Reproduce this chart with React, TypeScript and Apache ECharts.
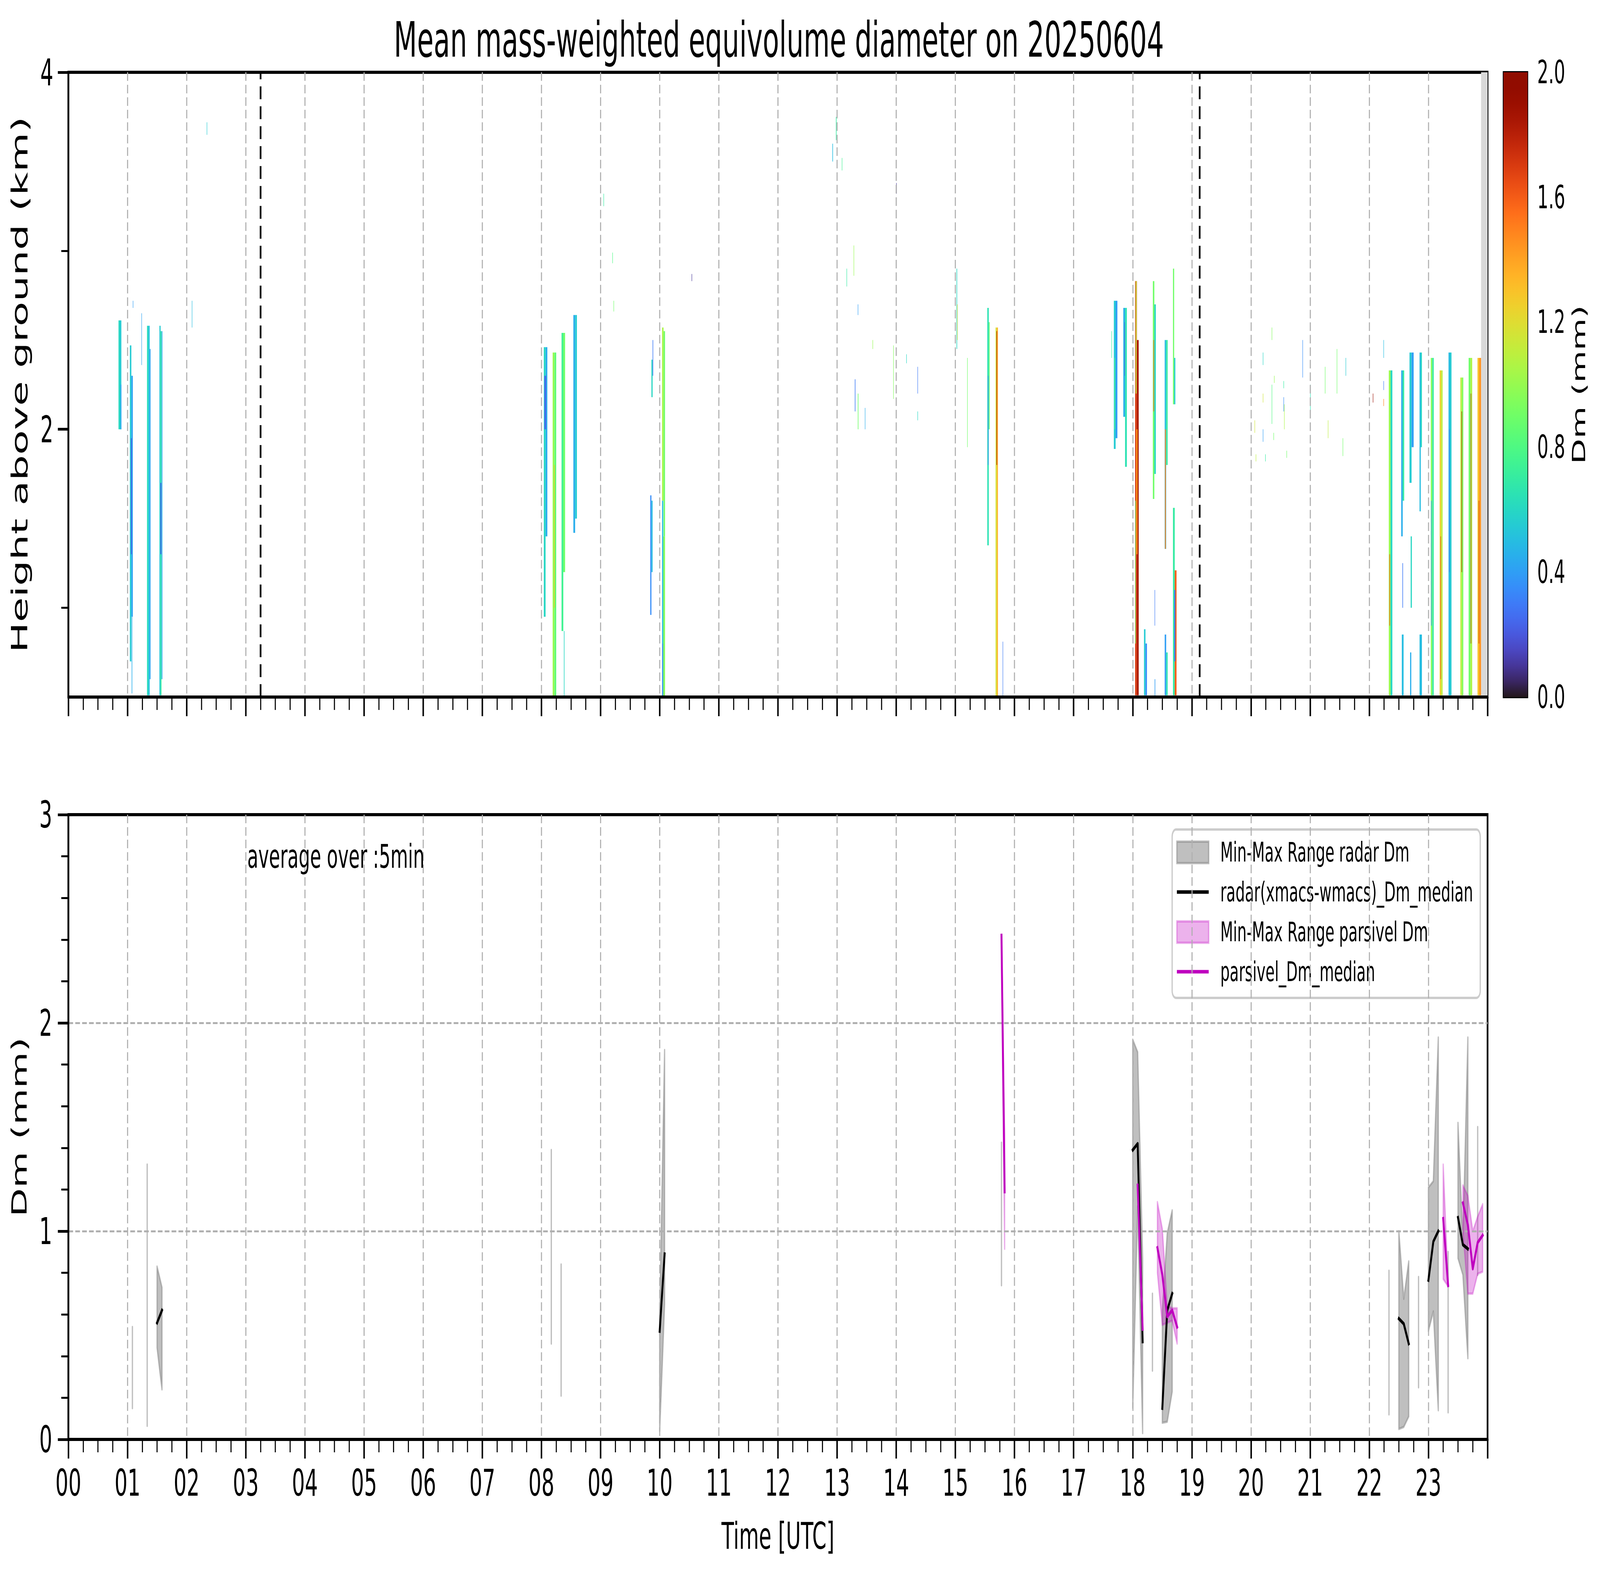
import { useEffect, useRef } from "react";
import * as echarts from "echarts";

const FONT = "DejaVu Sans";
const FIG_W = 7442;
const FIG_H = 4031;

// Dm columns of the top panel: [start h, end h, bottom km, top km, Dm mm]
const DM_CELLS: number[][] = [
  // 00:50 - 02:20
  [0.848, 0.872, 2.0, 2.61, 0.6],
  [0.872, 0.896, 2.0, 2.61, 0.55],
  [0.884, 0.896, 2.0, 2.25, 0.4],
  [1.04, 1.065, 0.7, 2.47, 0.55],
  [1.065, 1.09, 0.95, 2.3, 0.42],
  [1.058, 1.072, 1.3, 1.95, 0.22],
  [1.07, 1.08, 0.52, 0.95, 0.45],
  [1.09, 1.095, 2.68, 2.72, 0.4],
  [1.236, 1.242, 2.36, 2.65, 0.42],
  [1.33, 1.355, 0.51, 2.58, 0.62],
  [1.355, 1.375, 0.51, 2.58, 0.5],
  [1.375, 1.39, 0.6, 2.45, 0.42],
  [1.54, 1.56, 0.51, 2.58, 0.55],
  [1.56, 1.575, 0.51, 2.55, 0.72],
  [1.575, 1.59, 0.6, 2.55, 0.45],
  [1.558, 1.572, 1.3, 1.7, 0.2],
  [2.088, 2.094, 2.57, 2.72, 0.5],
  [2.34, 2.346, 3.65, 3.72, 0.55],
  // 08:00 - 08:40
  [8.04, 8.07, 0.95, 2.46, 0.6],
  [8.07, 8.1, 1.4, 2.46, 0.45],
  [8.05, 8.08, 2.0, 2.3, 0.25],
  [8.19, 8.22, 0.5, 2.43, 1.0],
  [8.22, 8.25, 0.5, 2.43, 0.85],
  [8.215, 8.225, 1.0, 1.8, 1.3],
  [8.34, 8.37, 0.87, 2.54, 0.75],
  [8.37, 8.4, 1.2, 2.54, 0.9],
  [8.38, 8.39, 0.5, 0.87, 0.6],
  [8.54, 8.57, 1.42, 2.64, 0.45],
  [8.57, 8.6, 1.5, 2.64, 0.55],
  // 09:00 - 10:40
  [9.05, 9.055, 3.25, 3.32, 0.7],
  [9.2, 9.205, 2.93, 2.99, 0.8],
  [9.22, 9.226, 2.66, 2.72, 0.9],
  [9.84, 9.86, 0.96, 1.63, 0.35],
  [9.86, 9.88, 1.2, 1.6, 0.5],
  [9.86, 9.88, 2.18, 2.39, 0.6],
  [9.88, 9.89, 2.3, 2.5, 0.3],
  [10.04, 10.065, 1.6, 2.57, 1.05],
  [10.065, 10.09, 1.4, 2.55, 0.9],
  [10.04, 10.06, 0.5, 1.6, 0.5],
  [10.06, 10.09, 0.5, 1.4, 0.95],
  [10.045, 10.055, 0.5, 0.8, 0.3],
  [10.54, 10.546, 2.83, 2.87, 0.1],
  // 12:50 - 15:15 scattered echoes
  [12.92, 12.93, 3.5, 3.6, 0.5],
  [12.98, 12.99, 3.62, 3.75, 0.7],
  [13.08, 13.085, 3.45, 3.52, 0.75],
  [13.16, 13.166, 2.8, 2.9, 0.7],
  [13.28, 13.286, 2.86, 3.03, 1.0],
  [13.35, 13.356, 2.64, 2.7, 0.4],
  [13.3, 13.31, 2.1, 2.28, 0.3],
  [13.35, 13.36, 2.0, 2.2, 0.9],
  [13.47, 13.476, 2.0, 2.12, 0.45],
  [13.6, 13.606, 2.45, 2.5, 1.0],
  [13.95, 13.956, 2.17, 2.47, 0.95],
  [14.0, 14.006, 3.32, 3.38, 0.1],
  [14.17, 14.176, 2.37, 2.42, 0.6],
  [14.36, 14.366, 2.2, 2.35, 0.3],
  [14.36, 14.366, 2.05, 2.1, 0.6],
  [15.02, 15.03, 2.45, 2.9, 0.6],
  [15.03, 15.035, 2.5, 2.7, 1.2],
  [15.2, 15.206, 1.9, 2.4, 0.9],
  // 15:30 - 15:50
  [15.54, 15.565, 1.35, 2.68, 0.65],
  [15.55, 15.56, 1.8, 2.3, 0.35],
  [15.565, 15.58, 2.0, 2.6, 0.85],
  [15.68, 15.7, 0.5, 2.57, 1.15],
  [15.7, 15.72, 0.5, 2.57, 1.35],
  [15.695, 15.705, 1.8, 2.55, 1.8],
  [15.8, 15.805, 0.5, 0.81, 0.3],
  // 17:35 - 18:45
  [17.64, 17.645, 2.4, 2.55, 0.7],
  [17.68, 17.71, 1.89, 2.72, 0.55],
  [17.71, 17.74, 1.95, 2.72, 0.4],
  [17.69, 17.7, 2.0, 2.4, 0.8],
  [17.84, 17.87, 2.07, 2.68, 0.45],
  [17.87, 17.9, 1.79, 2.68, 0.65],
  [17.86, 17.865, 2.3, 2.6, 0.2],
  [18.04, 18.07, 0.51, 2.83, 1.7],
  [18.07, 18.1, 0.51, 2.5, 1.85],
  [18.05, 18.065, 2.2, 2.83, 1.1],
  [18.06, 18.08, 1.3, 2.0, 1.4],
  [18.04, 18.05, 0.8, 1.6, 0.9],
  [18.19, 18.215, 0.51, 0.88, 0.55],
  [18.215, 18.24, 0.51, 0.8, 0.35],
  [18.34, 18.365, 1.61, 2.83, 0.9],
  [18.365, 18.39, 1.75, 2.7, 0.6],
  [18.35, 18.36, 2.1, 2.5, 1.6],
  [18.37, 18.38, 0.5, 0.6, 0.4],
  [18.37, 18.375, 0.9, 1.1, 0.3],
  [18.54, 18.565, 1.33, 2.5, 0.5],
  [18.565, 18.59, 1.8, 2.5, 0.7],
  [18.545, 18.56, 1.33, 2.0, 1.5],
  [18.54, 18.565, 0.51, 0.85, 0.4],
  [18.565, 18.59, 0.51, 0.75, 0.65],
  [18.68, 18.7, 2.14, 2.9, 0.9],
  [18.7, 18.72, 2.14, 2.4, 0.55],
  [18.68, 18.71, 0.51, 1.56, 0.7],
  [18.71, 18.74, 0.51, 1.21, 1.6],
  [18.7, 18.72, 0.7, 1.1, 0.3],
  // 20:00 - 22:15 scattered echoes
  [20.06, 20.066, 1.98, 2.05, 1.15],
  [20.08, 20.086, 1.82, 1.86, 1.1],
  [20.2, 20.206, 2.15, 2.2, 1.15],
  [20.2, 20.206, 2.36, 2.43, 0.6],
  [20.2, 20.206, 1.93, 2.0, 0.4],
  [20.24, 20.246, 1.82, 1.86, 0.7],
  [20.35, 20.356, 2.5, 2.57, 0.95],
  [20.35, 20.356, 2.03, 2.25, 0.8],
  [20.38, 20.386, 1.94, 1.98, 0.9],
  [20.39, 20.396, 2.26, 2.3, 1.0],
  [20.55, 20.556, 2.23, 2.27, 0.7],
  [20.55, 20.556, 2.1, 2.18, 0.35],
  [20.56, 20.566, 2.0, 2.14, 1.05],
  [20.6, 20.606, 1.84, 1.88, 0.9],
  [20.87, 20.876, 2.29, 2.5, 0.35],
  [21.0, 21.006, 2.1, 2.25, 0.65],
  [21.25, 21.256, 2.2, 2.35, 0.9],
  [21.3, 21.306, 1.95, 2.05, 1.1],
  [21.45, 21.456, 2.2, 2.45, 0.9],
  [21.55, 21.556, 1.85, 1.95, 0.9],
  [21.6, 21.606, 2.3, 2.4, 0.55],
  [22.06, 22.066, 2.15, 2.2, 1.9],
  [22.24, 22.246, 2.4, 2.5, 0.5],
  [22.24, 22.246, 2.22, 2.27, 0.3],
  [22.24, 22.246, 2.13, 2.17, 1.5],
  // 22:20 - 23:55
  [22.33, 22.36, 0.51, 2.33, 1.0],
  [22.36, 22.39, 0.51, 2.33, 0.6],
  [22.34, 22.35, 0.9, 1.3, 1.6],
  [22.54, 22.565, 1.4, 2.33, 0.45],
  [22.565, 22.59, 1.6, 2.33, 0.7],
  [22.55, 22.58, 0.51, 0.85, 0.5],
  [22.56, 22.57, 1.0, 1.25, 0.3],
  [22.68, 22.715, 1.7, 2.43, 0.55],
  [22.715, 22.75, 1.9, 2.43, 0.4],
  [22.69, 22.71, 0.51, 0.75, 0.45],
  [22.7, 22.72, 1.0, 1.4, 0.6],
  [22.85, 22.87, 1.54, 2.43, 0.5],
  [22.87, 22.89, 1.9, 2.43, 0.6],
  [22.85, 22.89, 0.51, 0.85, 0.5],
  [23.04, 23.065, 0.51, 2.4, 0.95],
  [23.065, 23.09, 0.51, 2.4, 0.7],
  [23.045, 23.055, 0.9, 1.6, 0.4],
  [23.19, 23.215, 0.51, 2.33, 1.25],
  [23.215, 23.24, 0.51, 2.33, 1.1],
  [23.205, 23.21, 0.6, 1.4, 1.7],
  [23.34, 23.365, 0.51, 2.43, 0.5],
  [23.365, 23.39, 0.51, 2.43, 0.55],
  [23.35, 23.36, 1.2, 2.0, 0.3],
  [23.54, 23.565, 0.51, 2.29, 1.1],
  [23.565, 23.59, 0.51, 2.29, 0.95],
  [23.56, 23.565, 1.2, 2.1, 1.9],
  [23.68, 23.71, 0.51, 2.4, 0.9],
  [23.71, 23.74, 0.51, 2.4, 1.05],
  [23.715, 23.72, 0.8, 2.2, 1.8],
  [23.83, 23.86, 0.51, 2.4, 1.3],
  [23.86, 23.89, 0.51, 2.4, 1.45],
  [23.85, 23.855, 0.8, 1.6, 1.75],
];

const SUN_LINES = [3.25, 19.13];
const NO_DATA_BAND = [23.89, 24];

const RADAR_TIME = [1.083, 1.333, 1.5, 1.583, 8.167, 8.333, 10.0, 10.083, 15.78, 18.0, 18.083, 18.167, 18.333, 18.5, 18.583, 18.667, 22.333, 22.5, 22.583, 22.667, 22.833, 23.0, 23.083, 23.167, 23.333, 23.5, 23.583, 23.667, 23.833];
const RADAR_MIN = [0.15, 0.065, 0.44, 0.24, 0.46, 0.21, 0.04, 0.65, 0.74, 0.15, 1.12, 0.03, 0.33, 0.08, 0.085, 0.23, 0.12, 0.05, 0.06, 0.11, 0.25, 0.52, 0.615, 0.14, 0.13, 0.87, 0.79, 0.39, 0.79];
const RADAR_MAX = [0.54, 1.32, 0.83, 0.73, 1.39, 0.84, 0.6, 1.87, 1.425, 1.92, 1.86, 0.87, 0.7, 0.62, 0.99, 1.1, 0.81, 1.0, 0.675, 0.855, 0.78, 1.21, 1.24, 1.93, 0.9, 1.52, 0.95, 1.93, 1.5];
const RADAR_MEDIAN = [null, null, 0.56, 0.62, null, null, 0.52, 0.89, null, 1.39, 1.42, 0.47, null, 0.15, 0.62, 0.7, null, 0.58, 0.555, 0.46, null, 0.765, 0.95, 1.0, null, 1.065, 0.935, 0.915, null];

const PARSIVEL_TIME = [15.78, 15.833, 18.083, 18.167, 18.417, 18.5, 18.583, 18.667, 18.75, 23.25, 23.333, 23.583, 23.667, 23.75, 23.833, 23.917];
const PARSIVEL_MIN = [2.42, 0.915, 1.22, 0.53, 0.8, 0.55, 0.56, 0.57, 0.46, 0.77, 0.735, 1.0, 0.7, 0.7, 0.795, 0.805];
const PARSIVEL_MAX = [2.42, 1.47, 1.22, 0.53, 1.14, 1.01, 0.64, 0.63, 0.63, 1.32, 0.75, 1.22, 1.17, 1.0, 1.07, 1.13];
const PARSIVEL_MEDIAN = [2.42, 1.19, 1.22, 0.53, 0.92, 0.79, 0.59, 0.62, 0.54, 1.06, 0.74, 1.135, 1.03, 0.82, 0.945, 0.98];

const LEGEND_ITEMS = [
  { label: "Min-Max Range radar Dm", kind: "patch", color: "rgba(128,128,128,0.5)" },
  { label: "radar(xmacs-wmacs)_Dm_median", kind: "line", color: "#000000" },
  { label: "Min-Max Range parsivel Dm", kind: "patch", color: "rgba(191,0,191,0.3)" },
  { label: "parsivel_Dm_median", kind: "line", color: "#bf00bf" },
];

function turbo(t: number) {
  const x = Math.min(1, Math.max(0, t));
  const r = 0.13572138 + x * (4.6153926 + x * (-42.66032258 + x * (132.13108234 + x * (-152.94239396 + x * 59.28637943))));
  const g = 0.09140261 + x * (2.19418839 + x * (4.84296658 + x * (-14.18503333 + x * (4.27729857 + x * 2.82956604))));
  const b = 0.1066733 + x * (12.64194608 + x * (-60.58204836 + x * (110.36276771 + x * (-89.90310912 + x * 27.34824973))));
  const c = (v: number) => Math.round(255 * Math.min(1, Math.max(0, v)));
  return `rgb(${c(r)},${c(g)},${c(b)})`;
}

// consecutive 5-min samples form one segment; a gap breaks it
function segments(time: number[]) {
  const out: [number, number][] = [];
  let start = 0;
  for (let i = 1; i <= time.length; i++) {
    if (i === time.length || time[i] - time[i - 1] > 0.1) {
      out.push([start, i - 1]);
      start = i;
    }
  }
  return out;
}

const gridStyle = { color: "#b0b0b0", width: 5, type: [22, 10] };
const txt = (size: number) => ({ fontSize: size, fontFamily: FONT, color: "#000" });

function hourAxis(gridIndex: number, showLabels: boolean) {
  return {
    type: "value",
    gridIndex,
    min: 0,
    max: 24,
    interval: 1,
    z: 3,
    axisLine: { show: true, onZero: false, lineStyle: { color: "#000", width: 8 } },
    axisTick: { show: true, length: 49, lineStyle: { color: "#000", width: 7 } },
    minorTick: { show: true, splitNumber: 4, length: 33, lineStyle: { color: "#000", width: 5 } },
    axisLabel: {
      show: showLabels,
      interval: 0,
      margin: 64,
      ...txt(95),
      formatter: (v: number) => (v >= 24 ? "" : String(Math.round(v)).padStart(2, "0")),
    },
    splitLine: { show: true, showMinLine: false, showMaxLine: false, lineStyle: gridStyle },
    name: showLabels ? "Time [UTC]" : "",
    nameLocation: "middle",
    nameGap: 200,
    nameTextStyle: txt(95),
  };
}

function bandSeries(name: string, time: number[], lo: number[], hi: number[], color: string) {
  return {
    type: "custom",
    name,
    xAxisIndex: 1,
    yAxisIndex: 2,
    z: 2,
    clip: true,
    data: segments(time).map(([a, b]) => [time[a], lo[a], a, b]),
    encode: { x: 0, y: 1 },
    renderItem: (_p: any, api: any) => {
      const a = api.value(2);
      const b = api.value(3);
      const pts: number[][] = [];
      for (let i = a; i <= b; i++) pts.push(api.coord([time[i], hi[i]]));
      for (let i = b; i >= a; i--) pts.push(api.coord([time[i], lo[i]]));
      return {
        type: "polygon",
        shape: { points: pts },
        style: { fill: color, stroke: color, lineWidth: 6, lineJoin: "round" },
      };
    },
  };
}

function medianSeries(name: string, time: number[], med: (number | null)[], color: string) {
  const data: any[] = [];
  segments(time).forEach(([a, b]) => {
    for (let i = a; i <= b; i++) data.push([time[i], med[i] == null ? "-" : med[i]]);
    data.push([time[b] + 0.01, "-"]);
  });
  return {
    type: "line",
    name,
    xAxisIndex: 1,
    yAxisIndex: 2,
    z: 4,
    data,
    showSymbol: false,
    symbol: "none",
    connectNulls: false,
    lineStyle: { color, width: 9, cap: "square", join: "round" },
  };
}

export default function App() {
  const outerRef = useRef<HTMLDivElement>(null);
  const ref = useRef<HTMLDivElement>(null);

  useEffect(() => {
    const outer = outerRef.current;
    const el = ref.current;
    if (!outer || !el) return;
    // the figure is laid out at its own 7442x4031 size, then fitted to the window
    const sx = (outer.clientWidth || FIG_W) / FIG_W;
    const sy = (outer.clientHeight || FIG_H) / FIG_H;
    el.style.transform = `scale(${sx}, ${sy})`;

    const chart = echarts.init(el, undefined, { renderer: "svg" });
    const stops = Array.from({ length: 41 }, (_, i) => ({ offset: i / 40, color: turbo(i / 40) }));

    const legendChildren: any[] = [
      {
        type: "rect",
        shape: { x: 0, y: 0, width: 1433, height: 431, r: 18 },
        style: { fill: "rgba(255,255,255,0.8)", stroke: "#cccccc", lineWidth: 6 },
      },
    ];
    LEGEND_ITEMS.forEach((it, i) => {
      const cy = 58 + i * 102;
      if (it.kind === "patch") {
        legendChildren.push({
          type: "rect",
          shape: { x: 22, y: cy - 27, width: 148, height: 55 },
          style: { fill: it.color, stroke: it.color, lineWidth: 6 },
        });
      } else {
        legendChildren.push({
          type: "line",
          shape: { x1: 22, y1: cy, x2: 170, y2: cy },
          style: { stroke: it.color, lineWidth: 9 },
        });
      }
      legendChildren.push({
        type: "text",
        style: { text: it.label, x: 224, y: cy, verticalAlign: "middle", fontSize: 69, fontFamily: FONT, fill: "#000" },
      });
    });

    chart.setOption({
      animation: false,
      backgroundColor: "#ffffff",
      title: {
        text: "Mean mass-weighted equivolume diameter on 20250604",
        left: 3618,
        top: 34,
        textAlign: "center",
        textStyle: { ...txt(125), fontWeight: "normal" },
      },
      grid: [
        { left: 318, top: 185, width: 6601, height: 1599, show: true, borderColor: "#000", borderWidth: 8, outerBoundsMode: "none" },
        { left: 318, top: 2085, width: 6601, height: 1599, show: true, borderColor: "#000", borderWidth: 8, outerBoundsMode: "none" },
        { left: 6993, top: 185, width: 112, height: 1599, show: true, borderColor: "#000", borderWidth: 6, outerBoundsMode: "none" },
      ],
      xAxis: [hourAxis(0, false), hourAxis(1, true), { type: "value", gridIndex: 2, min: 0, max: 1, show: false }],
      yAxis: [
        {
          type: "value",
          gridIndex: 0,
          position: "left",
          min: 0.5,
          max: 4,
          z: 3,
          axisLine: { show: true, lineStyle: { color: "#000", width: 8 } },
          axisTick: { show: true, customValues: [2, 4], length: 49, lineStyle: { color: "#000", width: 7 } },
          axisLabel: { customValues: [2, 4], margin: 70, ...txt(95) },
          splitLine: { show: true, showMinLine: false, showMaxLine: false, lineStyle: gridStyle },
          name: "Height above ground (km)",
          nameLocation: "middle",
          nameGap: 175,
          nameTextStyle: txt(104),
        },
        {
          type: "value",
          gridIndex: 0,
          position: "left",
          min: 0.5,
          max: 4,
          axisLine: { show: false },
          axisTick: { show: true, customValues: [1, 3], length: 33, lineStyle: { color: "#000", width: 5 } },
          axisLabel: { show: false },
          splitLine: { show: false },
        },
        {
          type: "value",
          gridIndex: 1,
          position: "left",
          min: 0,
          max: 3,
          interval: 1,
          z: 3,
          axisLine: { show: true, lineStyle: { color: "#000", width: 8 } },
          axisTick: { show: true, length: 49, lineStyle: { color: "#000", width: 7 } },
          minorTick: { show: true, splitNumber: 5, length: 33, lineStyle: { color: "#000", width: 5 } },
          axisLabel: { margin: 75, ...txt(95) },
          splitLine: { show: true, showMinLine: false, showMaxLine: false, lineStyle: gridStyle },
          name: "Dm (mm)",
          nameLocation: "middle",
          nameGap: 180,
          nameTextStyle: txt(96),
        },
        {
          type: "value",
          gridIndex: 2,
          position: "right",
          min: 0,
          max: 2,
          interval: 0.4,
          axisLine: { show: true, lineStyle: { color: "#000", width: 6 } },
          axisTick: { show: true, length: 22, lineStyle: { color: "#000", width: 6 } },
          axisLabel: { margin: 45, ...txt(82), formatter: (v: number) => v.toFixed(1) },
          splitLine: { show: false },
          name: "Dm (mm)",
          nameLocation: "middle",
          nameRotate: 90,
          nameGap: 195,
          nameTextStyle: txt(85),
        },
      ],
      series: [
        {
          type: "custom",
          name: "Dm",
          xAxisIndex: 0,
          yAxisIndex: 0,
          z: 2,
          clip: true,
          data: DM_CELLS,
          encode: { x: [0, 1], y: [2, 3] },
          renderItem: (_p: any, api: any) => {
            const p0 = api.coord([api.value(0), api.value(3)]);
            const p1 = api.coord([api.value(1), api.value(2)]);
            return {
              type: "rect",
              shape: { x: p0[0], y: p0[1], width: Math.max(p1[0] - p0[0], 2), height: p1[1] - p0[1] },
              style: { fill: turbo(api.value(4) / 2) },
            };
          },
          markLine: {
            silent: true,
            symbol: "none",
            label: { show: false },
            lineStyle: { color: "#000", width: 8, type: [33, 18] },
            data: SUN_LINES.map((x) => ({ xAxis: x })),
          },
          markArea: {
            silent: true,
            itemStyle: { color: "#d9d9d9" },
            data: [[{ xAxis: NO_DATA_BAND[0] }, { xAxis: NO_DATA_BAND[1] }]],
          },
        },
        bandSeries("Min-Max Range radar Dm", RADAR_TIME, RADAR_MIN, RADAR_MAX, "rgba(128,128,128,0.5)"),
        medianSeries("radar(xmacs-wmacs)_Dm_median", RADAR_TIME, RADAR_MEDIAN, "#000000"),
        bandSeries("Min-Max Range parsivel Dm", PARSIVEL_TIME, PARSIVEL_MIN, PARSIVEL_MAX, "rgba(191,0,191,0.3)"),
        medianSeries("parsivel_Dm_median", PARSIVEL_TIME, PARSIVEL_MEDIAN, "#bf00bf"),
        {
          type: "custom",
          name: "colorbar",
          xAxisIndex: 2,
          yAxisIndex: 3,
          z: 1,
          data: [[0, 0]],
          renderItem: (params: any) => {
            const cs = params.coordSys;
            return {
              type: "rect",
              shape: { x: cs.x, y: cs.y, width: cs.width, height: cs.height },
              style: { fill: new echarts.graphic.LinearGradient(0, 1, 0, 0, stops) },
            };
          },
        },
      ],
      graphic: [
        {
          type: "text",
          left: 1150,
          top: 2150,
          z: 10,
          style: { text: "average over :5min", fontSize: 84, fontFamily: FONT, fill: "#000" },
        },
        { type: "group", left: 5449, top: 2120, z: 10, children: legendChildren },
      ],
    });

    return () => chart.dispose();
  }, []);

  return (
    <div
      ref={outerRef}
      style={{ position: "fixed", left: 0, top: 0, width: "100vw", height: "100vh", overflow: "hidden", background: "#fff" }}
    >
      <div ref={ref} style={{ width: FIG_W, height: FIG_H, transformOrigin: "0 0" }} />
    </div>
  );
}
